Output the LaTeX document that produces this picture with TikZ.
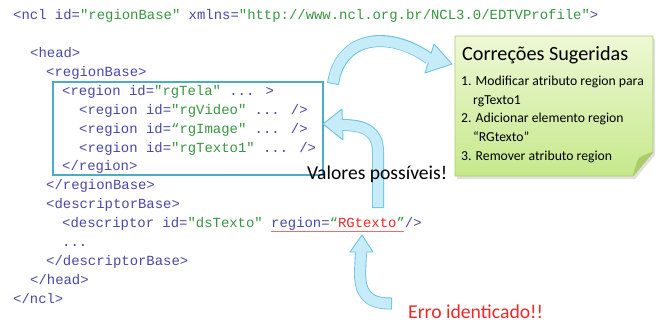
\documentclass[tikz,border=0pt]{standalone}
\usepackage{fontspec}
\setmainfont{Carlito}
\newfontfamily\codefont{Liberation Mono}
\usetikzlibrary{calc}
\definecolor{tagc}{RGB}{72,72,168}
\definecolor{valc}{RGB}{56,150,64}
\definecolor{errc}{RGB}{240,40,40}
\definecolor{boxc}{RGB}{75,172,198}
\definecolor{arrout}{RGB}{110,195,225}
\definecolor{arrin}{RGB}{198,236,249}
\definecolor{notetop}{RGB}{238,248,212}
\definecolor{notebot}{RGB}{198,232,140}
\definecolor{noteedge}{RGB}{170,205,110}
\definecolor{notefold}{RGB}{172,205,105}
\newcommand\tg[1]{\textcolor{tagc}{#1}}
\newcommand\vl[1]{\textcolor{valc}{#1}}
\newcommand\er[1]{\textcolor{errc}{#1}}
\tikzset{
  code/.style={anchor=base west, inner sep=0pt, text=tagc, font=\codefont\fontsize{13.93}{16}\selectfont},
  notetxt/.style={anchor=base west, inner sep=0pt, text=black, font=\fontsize{13.7}{16}\selectfont},
  arrowout/.style={line width=12pt, draw=arrout},
  arrowin/.style={line width=10.2pt, draw=arrin, shorten <=0.9pt, shorten >=-2pt},
  arrowhead/.style={fill=arrin, draw=arrout, line width=0.9pt, line join=round},
}
\begin{document}
\begin{tikzpicture}[x=1pt,y=-1pt]
\useasboundingbox (0,0) rectangle (658,322);
\fill[white] (0,0) rectangle (658,322);

% code lines
\node[code] (l0) at (13,19.7) {<ncl id=\vl{"regionBase"} xmlns=\vl{"http://www.ncl.org.br/NCL3.0/EDTVProfile"}>};
\node[code] (l2) at (30,57.5) {<head>};
\node[code] (l3) at (46,76.4) {<regionBase>};
\node[code] (l4) at (62,95.3) {<region id=\vl{"rgTela"} ... >};
\node[code] (l5) at (79,114.2) {<region id=\vl{"rgVideo"} ... />};
\node[code] (l6) at (79,133.1) {<region id=\vl{“rgImage"} ... />};
\node[code] (l7) at (79,152.0) {<region id=\vl{"rgTexto1"} ... />};
\node[code] (l8) at (62,170.9) {</region>};
\node[code] (l9) at (46,189.8) {</regionBase>};
\node[code] (l10) at (46,208.7) {<descriptorBase>};
\node[code] (l11) at (62,227.6) {<descriptor id=\vl{"dsTexto"} region=\vl{“}\er{RGtexto}\vl{”}/>};
\node[code] (l12) at (62,246.5) {...};
\node[code] (l13) at (46,265.4) {</descriptorBase>};
\node[code] (l14) at (30,284.3) {</head>};
\node[code] (l15) at (13,303.2) {</ncl>};

% red underline
\coordinate (ul1) at (271,231.2);
\coordinate (ul2) at (404,231.2);
\draw[errc!70, line width=1pt] (ul1) -- (ul2);

% region box
\draw[boxc, line width=2.5pt] (53,82) rectangle (323,175);

% note
\coordinate (n1) at (455,36);
\coordinate (n2) at (653,36);
\coordinate (n3) at (653,152);
\coordinate (n4) at (633,176);
\coordinate (n5) at (455,176);
\fill[black, opacity=0.12] ($(n1)+(2,3)$) -- ($(n2)+(2,3)$) -- ($(n3)+(2,3)$) -- ($(n4)+(2,3)$) -- ($(n5)+(2,3)$) -- cycle;
\shadedraw[top color=notetop, bottom color=notebot, draw=noteedge, line width=0.8pt]
  (n1) -- (n2) -- (n3) -- (n4) -- (n5) -- cycle;
\filldraw[fill=notefold, draw=noteedge, line width=0.6pt, line join=round]
  (n3) .. controls (645,155) and (639,157) .. (638,160) -- (n4) -- cycle;
\node[anchor=base west, inner sep=0pt, font=\fontsize{20.2}{24}\selectfont] (title) at (462,60.5) {Correções Sugeridas};
\node[notetxt] (i1) at (461,85) {1. Modificar atributo region para};
\node[notetxt] (i1b) at (473,104) {rgTexto1};
\node[notetxt] (i2) at (461,122) {2. Adicionar elemento region};
\node[notetxt] (i2b) at (473,141) {“RGtexto”};
\node[notetxt] (i3) at (461,160) {3. Remover atributo region};

% arrow 1 : box -> note
\coordinate (a1s) at (333,84);
\coordinate (a1e) at (429,58.5);
\coordinate (a1t) at (452,64);
\coordinate (a1b1) at (434,44);
\coordinate (a1b2) at (425,73);
\draw[arrowout] (a1s) .. controls (340,35) and (390,30) .. (a1e);
\filldraw[arrowhead] (a1b1) -- (a1t) -- (a1b2) -- cycle;
\draw[arrowin] (a1s) .. controls (340,35) and (390,30) .. (a1e);

% arrow 2 : valores -> box
\coordinate (a2s) at (378,208);
\coordinate (a2m) at (378,152);
\coordinate (a2e) at (342,125);
\coordinate (a2t) at (323,124);
\coordinate (a2b1) at (342,109);
\coordinate (a2b2) at (343,140);
\draw[arrowout] (a2s) -- (a2m) .. controls (378,132) and (366,125) .. (a2e);
\filldraw[arrowhead] (a2b1) -- (a2t) -- (a2b2) -- cycle;
\draw[arrowin] (a2s) -- (a2m) .. controls (378,132) and (366,125) .. (a2e);

% arrow 3 : erro -> RGtexto
\coordinate (a3s) at (392,303.5);
\coordinate (a3e) at (361,252);
\coordinate (a3t) at (362,235);
\coordinate (a3b1) at (350,252);
\coordinate (a3b2) at (373,252);
\draw[arrowout] (a3s) .. controls (366,304) and (360,292) .. (360,272) -- (a3e);
\filldraw[arrowhead] (a3b1) -- (a3t) -- (a3b2) -- cycle;
\draw[arrowin] (a3s) .. controls (366,304) and (360,292) .. (360,272) -- (a3e);

% labels
\node[anchor=base west, inner sep=0pt, font=\fontsize{19.6}{22}\selectfont] (val) at (307,179.5) {Valores possíveis!};
\node[anchor=base west, inner sep=0pt, text=errc, font=\fontsize{19.7}{23}\selectfont] (erro) at (408,318.5) {Erro identicado!!};
\end{tikzpicture}
\end{document}
